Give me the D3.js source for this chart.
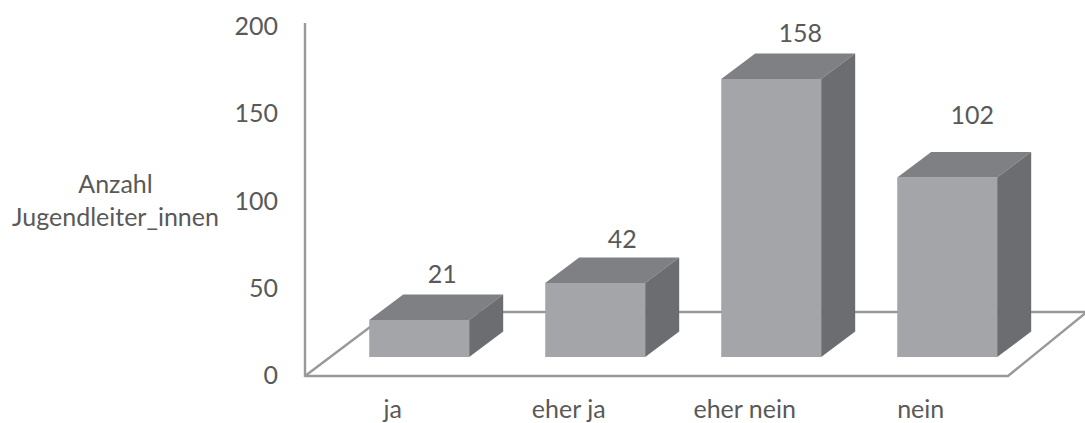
<!DOCTYPE html>
<html><head><meta charset="utf-8">
<script src="https://cdn.jsdelivr.net/npm/d3@7/dist/d3.min.js"></script>
<style>html,body{margin:0;padding:0;background:#fff}svg{display:block}text{font-family:Lato,"Open Sans",sans-serif;fill:#595959}</style>
</head><body><svg id="c" width="1085" height="423"></svg>
<script>
const categories = ["ja", "eher ja", "eher nein", "nein"];
const counts = [21, 42, 158, 102];
const yTicks = [0, 50, 100, 150, 200];
const axisTitle = ["Anzahl", "Jugendleiter_innen"];

const W = 1085, H = 423;
const dx = 34, dy = 25.5;
const svg = d3.select("#c");
const x = d3.scaleBand().domain(categories).range([331.2, 1035.2]).paddingInner(0.432).paddingOuter(0.216);
const y = d3.scaleLinear().domain([0, 200]).range([357, 5]);
const yAxisScale = d3.scaleLinear().domain([0, 200]).range([375, 26]);
const AX = "#98999b";
// hand-placed data-label offsets, as in the source chart
const labelShiftX = [-11, -7, -5, -9];
const labelGap = [12, 10, 11, 28];

// floor
const floor = svg.append("g").attr("fill", "none").attr("stroke", AX).attr("stroke-width", 2.4);
floor.append("path").attr("d", d3.line()([[305, 376], [1008, 376], [1085, 313.5]]));
floor.append("path").attr("d", d3.line()([[305, 376], [390, 312], [1085, 312]]));
floor.append("line").attr("x1", 305).attr("x2", 305).attr("y1", 23).attr("y2", 377);

// y axis labels
const ax = svg.append("g").attr("transform", "translate(305,0)")
  .call(d3.axisLeft(yAxisScale).tickValues(yTicks).tickSize(0).tickPadding(27));
ax.select(".domain").remove();
ax.selectAll("text").style("font-size", "25px").attr("dy", "0.34em").style("font-family", "Lato");

// bars
const bars = svg.append("g").selectAll("g").data(categories).join("g");
const bw = x.bandwidth();
bars.append("path").attr("fill", "#a4a5a8").attr("d", (c, i) => {
  const l = x(c), r = l + bw, t = y(counts[i]), b = y(0);
  return d3.line()([[l, t], [r, t], [r, b], [l, b]]) + "Z";
});
bars.append("path").attr("fill", "#7f8083").attr("d", (c, i) => {
  const l = x(c), r = l + bw, t = y(counts[i]);
  return d3.line()([[l, t], [l + dx, t - dy], [r + dx, t - dy], [r, t]]) + "Z";
});
bars.append("path").attr("fill", "#6c6d70").attr("d", (c, i) => {
  const r = x(c) + bw, t = y(counts[i]), b = y(0);
  return d3.line()([[r, t], [r + dx, t - dy], [r + dx, b - dy], [r, b]]) + "Z";
});

// value labels
svg.append("g").selectAll("text").data(categories).join("text")
  .attr("x", (c, i) => x(c) + bw / 2 + dx + labelShiftX[i])
  .attr("y", (c, i) => y(counts[i]) - dy - labelGap[i])
  .attr("text-anchor", "middle").style("font-size", "25px")
  .text((c, i) => counts[i]);

// category labels
svg.append("g").selectAll("text").data(categories).join("text")
  .attr("x", c => x(c) + bw / 2 - 26.5)
  .attr("y", 418)
  .attr("text-anchor", "middle").style("font-size", "25px")
  .text(c => c);

// axis title
svg.append("g").selectAll("text").data(axisTitle).join("text")
  .attr("x", 115.5).attr("y", (d, i) => 193 + i * 33)
  .attr("text-anchor", "middle").style("font-size", "25px")
  .text(d => d);
</script></body></html>
